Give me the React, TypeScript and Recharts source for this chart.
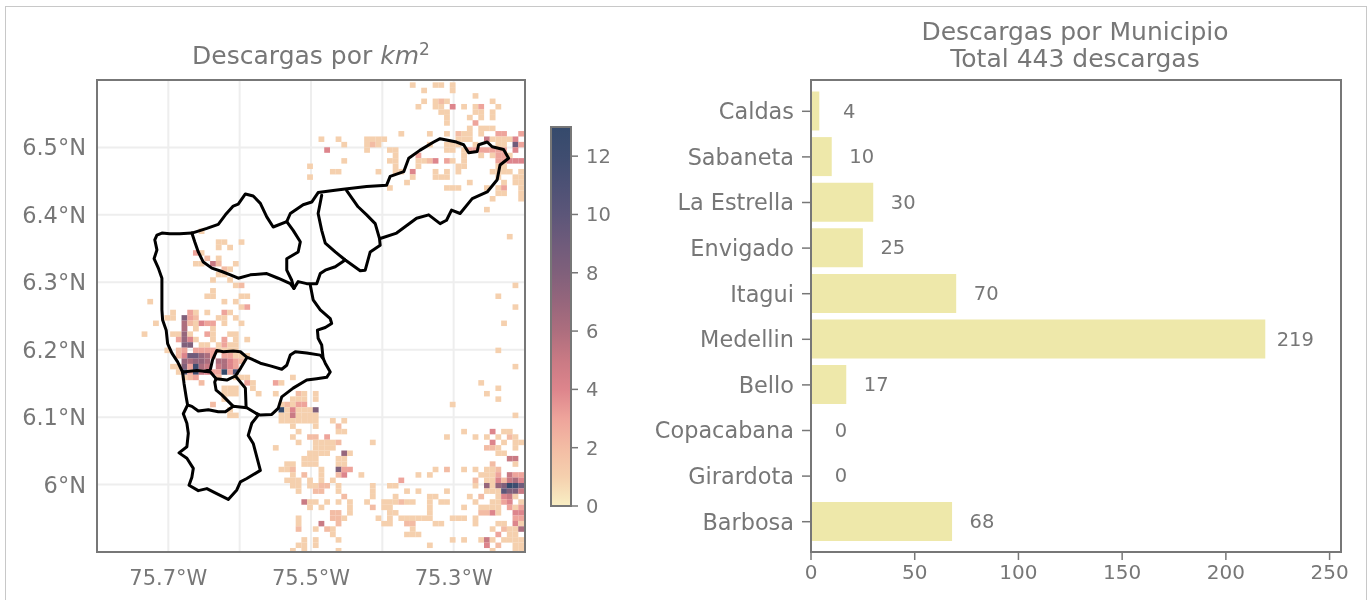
import React from 'react'
import { Bar, BarChart, CartesianGrid, LabelList, Scatter, ScatterChart, XAxis, YAxis } from 'recharts'

const municipios = ['Caldas', 'Sabaneta', 'La Estrella', 'Envigado', 'Itagui', 'Medellin', 'Bello', 'Copacabana', 'Girardota', 'Barbosa']
const descargas = [4, 10, 30, 25, 70, 219, 17, 0, 0, 68]
const barTicks = [0, 50, 100, 150, 200, 250]

const lonTicks = [-75.7, -75.5, -75.3]
const latTicks = [6, 6.1, 6.2, 6.3, 6.4, 6.5]
const lonGrid = [-75.7, -75.6, -75.5, -75.4, -75.3]
const colorbarTicks = [0, 2, 4, 6, 8, 10, 12]

// colour of each density value, 0 to 13
const cmap = ['#f9efc4', '#f5d0ae', '#f3bca4', '#eea49b', '#dd858c', '#c97a84', '#ad6e7e', '#96667c', '#80607b', '#6f5b7b', '#5c5679', '#4d5175', '#3f4d70', '#354a6c']

const GRID_LON0 = -75.8014
const GRID_LAT0 = 6.5965
const GRID_DLON = 0.008
const GRID_DLAT = 0.00803

// one string per grid row, north to south: "col" means density 1, "col:v" density v
const heatRows = [
  '55 59 60 62', '57 62', '66', '57 59 60:2 61 69', '56 59 60 62:4 64 66 67:3 70', '60 61 66 67 69', '61 65 67 69', '61 66:3',
  '65 67 68 69', '53 58 61 63:2 64 65 67 70:3 71:3 74:3', '39 42 47 48 49 50 63 64 65 68:5 69 70 71 72 73:4',
  '43 47 48:2 49 58 61 62 63 66 70 71 73:9 74:3', '40:4 47 51 52 61 62 64 65:3 66:3 67:3 68:3 69:3 70:3 71:3 73:4',
  '52 56:3 64 67 69 70:3 71:3 72', '43 51 52 56 57 58:2 59:4 61:3 62 64 70:3 71:3 72:4 73:4 74:4', '37 52 56 63 64 70 71',
  '41 42 49 52 53 55:4 59 61 63 69 70 71 72 74', '37 55 59 60 61 70 73 74', '54 65 71 73 74', '51 61 62 63 68 70 71:3 74', '70 71 74', '69 74', '', '68',
  '', '', '', '18', '72', '21 22 25', '21 23', '17:3 18', '19:2 21', '17 18 20:5 21:2 24', '22:2 23', '21 22', '20 23', '24 25:2 73', '20',
  '19 20 25 26 70', '9 22 24', '25 26:3 73', '13 16:3 17 19 22:3 23', '12 13 15:8 16:3 17:2 21 22 24', '10 15:6 16:2 17 18:4 19:3 20:3 22 25 71',
  '15:6 17 20', '8 13 14 15:7 16 19:3 20 23 24', '14:3 15:7 16:4 17 20 22:3 24 26', '15:8 16:8 18 19 21 22:3 23 24',
  '12 14:2 15:3 17:3 18:3 19:3 20:3 21 22 23 24 70', '14:2 15:4 16:9 17:9 18:7 19:6 20:3 22:3 23:3 24 25 26',
  '15:7 16:6 17:7 18:7 19:6 21:6 22:6 23:4 24:3 25:2', '13 14 15:8 16:3 17:12 18:6 19:5 21:5 22:6 23:4 24:3 73',
  '14 15:11 16:3 17:12 18:5 19:4 20:3 21:3 22:13 23:3 24:11', '15 16:2 17:3 21:2 24 25 26 34', '18:2 26:3 27 31:3 32 67', '22 23 24 27 70',
  '22 23 24 28 31 35:2 36 38 68', '22 34 35 36 38 70', '20:2 32 33:2 34 35:3 36:3 62', '23 32:13 33 34:4 35 36 37 38:8', '23 24 32 33 34:5 35 36 37 38 73',
  '32 33 34 35 36 37 38 41 43', '34 38 42:2', '35 42 43 64 69:4 71 72', '34 37:2 38:2 40:3 61 66 68 70 72:2 73', '35 38 39 40 41 42:2 48 69:4 71 73 74',
  '31 38 39 40 41 68:2 69:2 70 73', '37 38 39 40 43:7 44 70 71', '36 37 38 42 43 72:5 73:5', '33 34 36 37 38 42 43 69:2 73',
  '32 33 34:2 39 42:8 43:3 44:3 59 61:2 64 66 68 69 70:2', '34 36:2 39 42:2 43:4 46 56 58 67 68 69 70:3 72:5 73:3 74:3',
  '33 34 35 37 39 41 53:3 66:2 68 69 70:4 71:2 72:5 73:6 74:4', '34 35 37 38 39:2 40:2 42 48 51 52 66 68:7 69 70:7 71:8 72:13 73:12 74:9',
  '35 38:2 39:2 42 48 54 56 61 68 69 70 71:10 72:8 73:8 74:5', '43:2 48 52 58 59 65 67:2 70 71:4 72:5 73',
  '36:5 37 38 40 42 44 47 50 51 52 53:2 54 55 58 60 61 66 69 70 71:3 72:4 74', '37 39 44 48:2 50 51 58 64 67 68 69 70 72:3 73 74:3',
  '41:2 42:2 44 51 52 58 67:2 68:2 69:4 70 73:4 74:4', '35 41:2 42:2 43 49 51 53 54 55 56 57 58 62 63 64 66 73:3 74:3',
  '35 39:5 42:2 50 51 54:2 55:2 59 60 66 70 71 73:4 74', '35:2 38 40:2 41 55 69 71:2 72 73 74:6', '41 54 55 56 70:3 72 73',
  '36 38 42 62 64 67 68:5 69 71 72 73 74', '35 36 38 58 68:4 70:2 73 74', '34 36 42 69 73 74',
]

// municipal boundaries, [longitude, latitude]
const westEdge = [[-75.667, 6.373], [-75.684, 6.372], [-75.698, 6.372], [-75.709, 6.373], [-75.716, 6.37], [-75.719, 6.363], [-75.716, 6.348], [-75.72, 6.335], [-75.714, 6.321], [-75.709, 6.306], [-75.709, 6.288], [-75.709, 6.259], [-75.708, 6.244], [-75.703, 6.229], [-75.701, 6.209], [-75.695, 6.195], [-75.687, 6.182], [-75.68, 6.167]]
const medellinNorth = [[-75.667, 6.373], [-75.663, 6.36], [-75.658, 6.345], [-75.651, 6.33], [-75.639, 6.321], [-75.625, 6.316], [-75.613, 6.311], [-75.602, 6.306], [-75.585, 6.311], [-75.562, 6.313], [-75.546, 6.306], [-75.529, 6.298], [-75.524, 6.291]]
const belloEast = [[-75.534, 6.39], [-75.525, 6.377], [-75.515, 6.36], [-75.518, 6.345], [-75.534, 6.335], [-75.534, 6.318], [-75.527, 6.303], [-75.524, 6.291]]
const northEdge = [[-75.667, 6.373], [-75.646, 6.38], [-75.63, 6.386], [-75.62, 6.4], [-75.609, 6.413], [-75.602, 6.416], [-75.592, 6.431], [-75.581, 6.428], [-75.571, 6.417], [-75.562, 6.397], [-75.553, 6.382], [-75.534, 6.39], [-75.529, 6.402], [-75.511, 6.415], [-75.499, 6.419], [-75.49, 6.433], [-75.469, 6.436], [-75.455, 6.438], [-75.422, 6.442], [-75.394, 6.444], [-75.389, 6.457], [-75.37, 6.464], [-75.363, 6.484], [-75.347, 6.496], [-75.328, 6.508], [-75.319, 6.513], [-75.296, 6.508], [-75.286, 6.504], [-75.279, 6.492], [-75.267, 6.494], [-75.265, 6.504], [-75.253, 6.508], [-75.246, 6.501], [-75.23, 6.497], [-75.223, 6.484], [-75.235, 6.474], [-75.239, 6.452], [-75.253, 6.434], [-75.274, 6.424], [-75.291, 6.402], [-75.303, 6.407], [-75.31, 6.392], [-75.319, 6.387], [-75.335, 6.4], [-75.352, 6.395], [-75.38, 6.373], [-75.403, 6.365]]
const girardota = [[-75.45, 6.436], [-75.434, 6.412], [-75.422, 6.4], [-75.41, 6.387], [-75.404, 6.365], [-75.403, 6.355], [-75.417, 6.345], [-75.424, 6.318], [-75.431, 6.317], [-75.452, 6.333], [-75.466, 6.345], [-75.48, 6.358], [-75.485, 6.377], [-75.49, 6.402], [-75.485, 6.429]]
const copacabanaSouth = [[-75.524, 6.291], [-75.518, 6.301], [-75.506, 6.298], [-75.492, 6.298], [-75.487, 6.313], [-75.48, 6.318], [-75.466, 6.323], [-75.452, 6.333]]
const medellinEast = [[-75.501, 6.296], [-75.497, 6.274], [-75.487, 6.259], [-75.473, 6.246], [-75.471, 6.239], [-75.48, 6.233], [-75.491, 6.229], [-75.49, 6.217], [-75.485, 6.207], [-75.483, 6.187], [-75.48, 6.18], [-75.473, 6.167], [-75.478, 6.159], [-75.492, 6.157], [-75.506, 6.155], [-75.525, 6.143], [-75.541, 6.13], [-75.546, 6.113], [-75.555, 6.104], [-75.571, 6.103], [-75.576, 6.105]]
const envigadoNorth = [[-75.68, 6.167], [-75.66, 6.169], [-75.649, 6.168], [-75.641, 6.171], [-75.638, 6.185], [-75.632, 6.199], [-75.623, 6.197], [-75.609, 6.198], [-75.599, 6.197], [-75.59, 6.189], [-75.583, 6.186], [-75.571, 6.18], [-75.557, 6.176], [-75.541, 6.171], [-75.534, 6.177], [-75.529, 6.192], [-75.522, 6.197], [-75.506, 6.195], [-75.487, 6.192], [-75.483, 6.187]]
const itaguiSouth = [[-75.649, 6.168], [-75.641, 6.167], [-75.633, 6.157], [-75.618, 6.155], [-75.606, 6.161], [-75.599, 6.172], [-75.59, 6.188]]
const estrellaEast = [[-75.633, 6.157], [-75.635, 6.152], [-75.633, 6.14], [-75.625, 6.133], [-75.609, 6.116]]
const sabanetaEast = [[-75.606, 6.161], [-75.592, 6.143], [-75.591, 6.115]]
const caldasNorth = [[-75.68, 6.167], [-75.678, 6.15], [-75.675, 6.13], [-75.673, 6.118], [-75.667, 6.116], [-75.658, 6.109], [-75.644, 6.111], [-75.63, 6.108], [-75.62, 6.108], [-75.609, 6.116], [-75.59, 6.114], [-75.576, 6.105]]
const caldasSouth = [[-75.673, 6.118], [-75.679, 6.105], [-75.674, 6.091], [-75.672, 6.076], [-75.674, 6.056], [-75.685, 6.047], [-75.674, 6.039], [-75.665, 6.024], [-75.667, 6.011], [-75.671, 5.999], [-75.658, 5.991], [-75.646, 5.994], [-75.635, 5.988], [-75.616, 5.978], [-75.604, 5.992], [-75.599, 6.004], [-75.59, 6.009], [-75.571, 6.021], [-75.576, 6.041], [-75.581, 6.061], [-75.588, 6.073], [-75.583, 6.091], [-75.574, 6.103]]

const outlines = [westEdge, medellinNorth, belloEast, northEdge, girardota, copacabanaSouth, medellinEast, envigadoNorth, itaguiSouth, estrellaEast, sabanetaEast, caldasNorth, caldasSouth]

const GRAY = '#777777'
const FONT = '"DejaVu Sans", sans-serif'
const LABEL_GAP = 14.45 // x-axis units between a bar's end and the centre of its label

const heatCells = heatRows.flatMap((line, row) =>
  line.split(' ').filter(Boolean).map(tok => {
    const [col, v] = tok.split(':').map(Number)
    return {
      lon: GRID_LON0 + (col + 0.5) * GRID_DLON,
      lat: GRID_LAT0 - (row + 0.5) * GRID_DLAT,
      value: v || 1,
    }
  })
)

const barData = municipios.map((name, i) => ({ name, count: descargas[i], gap: LABEL_GAP }))
const outlineData = outlines.map(pts => pts.map(([lon, lat]) => ({ lon, lat })))

const HeatCell = (p: any) => (
  <rect x={p.cx - 2.9} y={p.cy - 2.75} width={5.8} height={5.5} fill={cmap[p.payload.value]} />
)

const Frame = ({ left, top, width, height }: any) => (
  <div style={{ position: 'absolute', left, top, width, height, boxSizing: 'border-box', border: `2px solid ${GRAY}`, pointerEvents: 'none' }} />
)

const titleStyle: React.CSSProperties = {
  position: 'absolute',
  transform: 'translateX(-50%)',
  whiteSpace: 'nowrap',
  textAlign: 'center',
  color: GRAY,
  fontFamily: FONT,
  fontSize: 25,
  lineHeight: '26.5px',
}

export default function App() {
  return (
    <div style={{ position: 'absolute', left: 0, top: 0, width: 1369, height: 600, overflow: 'hidden', background: '#fff', filter: 'blur(0.5px)' }}>
      <div style={{ position: 'absolute', left: 5, top: 6, width: 1360, height: 700, border: '1px solid #c8c8c8' }} />

      <div style={{ ...titleStyle, left: 311, top: 43 }}>
        Descargas por <i>km</i><sup style={{ fontSize: 17, lineHeight: 0 }}>2</sup>
      </div>
      <div style={{ ...titleStyle, left: 1075, top: 19 }}>
        Descargas por Municipio<br />Total 443 descargas
      </div>

      <div style={{ position: 'absolute', left: 0, top: 0 }}>
        <ScatterChart width={600} height={600} margin={{ top: 80, right: 75, bottom: 8, left: 17 }}>
          <CartesianGrid stroke="#eeeeee" strokeWidth={2} verticalValues={lonGrid} horizontalValues={latTicks} />
          <XAxis
            type="number"
            dataKey="lon"
            domain={[-75.8, -75.2]}
            ticks={lonTicks}
            height={40}
            axisLine={false}
            tickLine={false}
            tickMargin={12}
            tick={{ fill: GRAY, fontSize: 21, fontFamily: FONT }}
            tickFormatter={v => `${Math.abs(v).toFixed(1)}°W`}
            allowDataOverflow
          />
          <YAxis
            type="number"
            dataKey="lat"
            domain={[5.9, 6.6]}
            ticks={latTicks}
            width={80}
            axisLine={false}
            tickLine={false}
            tickMargin={5}
            tick={{ fill: GRAY, fontSize: 22.5, fontFamily: FONT }}
            tickFormatter={v => `${v === 6 ? '6' : v.toFixed(1)}°N`}
            allowDataOverflow
          />
          <Scatter data={heatCells} shape={HeatCell} isAnimationActive={false} />
          {outlineData.map((pts, i) => (
            <Scatter
              key={i}
              data={pts}
              line={{ stroke: '#000', strokeWidth: 3, strokeLinejoin: 'round', strokeLinecap: 'round' }}
              shape={() => <g />}
              isAnimationActive={false}
            />
          ))}
        </ScatterChart>
      </div>
      <Frame left={96} top={79} width={430} height={474} />

      <div style={{ position: 'absolute', left: 540, top: 100 }}>
        <BarChart width={100} height={430} data={[{ name: 'densidad', max: 13 }]} margin={{ top: 27, right: 20, bottom: 24, left: 11 }} barCategoryGap={0}>
          <defs>
            <linearGradient id="cbar" x1="0" y1="1" x2="0" y2="0">
              {cmap.map((c, i) => <stop key={i} offset={i / 13} stopColor={c} />)}
            </linearGradient>
          </defs>
          <XAxis dataKey="name" hide />
          <YAxis
            orientation="right"
            type="number"
            domain={[0, 13]}
            ticks={colorbarTicks}
            width={49}
            axisLine={false}
            tickLine={{ stroke: GRAY, strokeWidth: 1.5 }}
            tickSize={7}
            tickMargin={8}
            tick={{ fill: GRAY, fontSize: 19.5, fontFamily: FONT }}
          />
          <Bar dataKey="max" fill="url(#cbar)" stroke={GRAY} strokeWidth={2} isAnimationActive={false} />
        </BarChart>
      </div>

      <div style={{ position: 'absolute', left: 640, top: 0 }}>
        <BarChart width={729} height={600} layout="vertical" data={barData} margin={{ top: 80, right: 28, bottom: 8, left: 11 }}>
          <XAxis
            type="number"
            domain={[0, 255.5]}
            ticks={barTicks}
            height={40}
            axisLine={false}
            tickLine={{ stroke: GRAY, strokeWidth: 1.5 }}
            tickSize={8}
            tickMargin={5}
            tick={{ fill: GRAY, fontSize: 20, fontFamily: FONT }}
            allowDataOverflow
          />
          <YAxis
            type="category"
            dataKey="name"
            width={160}
            interval={0}
            padding={{ top: 8.5, bottom: 7.5 }}
            axisLine={false}
            tickLine={{ stroke: GRAY, strokeWidth: 1.5 }}
            tickSize={9}
            tickMargin={8}
            tick={{ fill: GRAY, fontSize: 22.4, fontFamily: FONT }}
          />
          <Bar dataKey="count" stackId="a" fill="#eee8aa" barSize={39} isAnimationActive={false} />
          <Bar dataKey="gap" stackId="a" fill="none" barSize={39} isAnimationActive={false}>
            <LabelList
              dataKey="count"
              content={(p: any) => (
                <text x={p.x + p.width} y={p.y + p.height / 2} textAnchor="middle" dominantBaseline="central" fill={GRAY} fontSize={19.5} fontFamily={FONT}>
                  {p.value}
                </text>
              )}
            />
          </Bar>
        </BarChart>
      </div>
      <Frame left={810} top={79} width={532} height={474} />
    </div>
  )
}
